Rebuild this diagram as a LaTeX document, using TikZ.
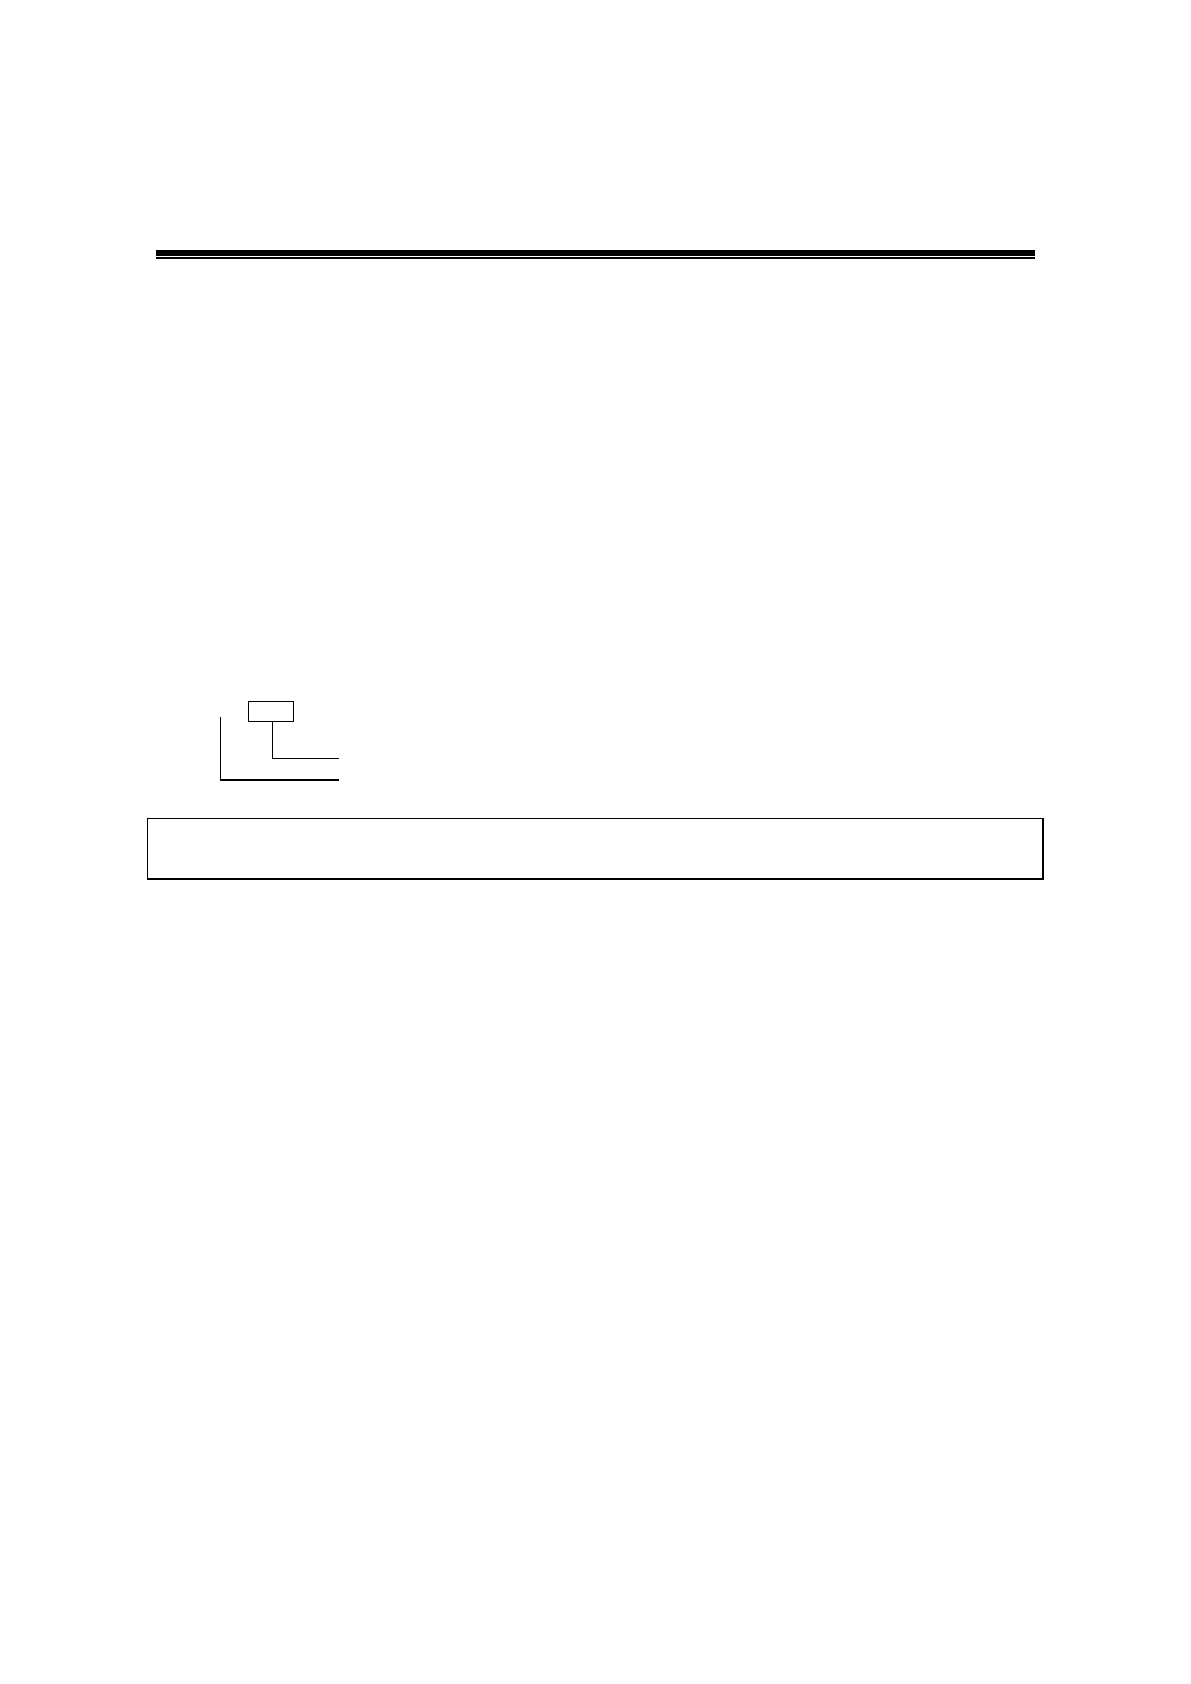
\documentclass[tikz,border=0pt]{standalone}
\usetikzlibrary{positioning}
\tikzset{
  tagbox/.style = {draw, line width = 0.6pt, inner sep = 0pt,
                   minimum width = 22.5pt, minimum height = 10pt},
  notebox/.style = {draw, line width = 0.8pt, inner sep = 0pt,
                    minimum width = 447.7pt, minimum height = 30.4pt},
  leader/.style = {line width = 0.6pt}
}
\begin{document}
\begin{tikzpicture}[x = 0.5pt, y = -0.5pt]
  \useasboundingbox (0, 0) rectangle (1190, 1684);

  % header rule
  \draw[line width = 3pt] (156, 253) -- (1035, 253);
  \draw[line width = 1pt] (156, 258) -- (1035, 258);

  \node[tagbox] (tag) at (270.8, 711.3) {};
  \coordinate (tagend) at (339.3, 758.3);
  \coordinate (frametop) at (220.7, 717.3);
  \coordinate (frameend) at (339.3, 780);

  \draw[leader] ([xshift = 0.75pt] tag.south) |- (tagend);
  \draw[leader] (frametop) |- (frameend);

  \node[notebox] (note) at (595, 848.7) {};
\end{tikzpicture}
\end{document}
